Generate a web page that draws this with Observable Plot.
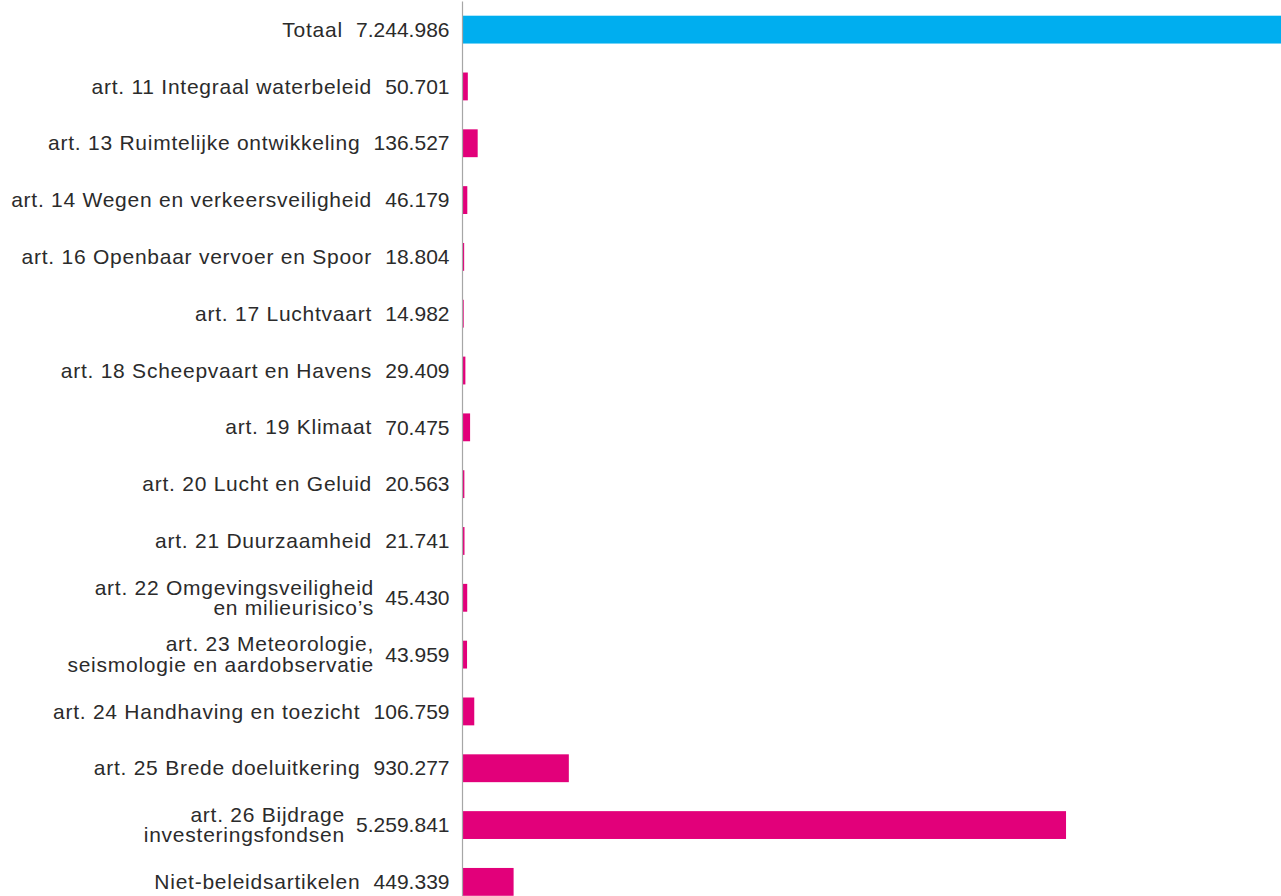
<!DOCTYPE html>
<html>
<head>
<meta charset="utf-8">
<script src="https://cdn.jsdelivr.net/npm/d3@7"></script>
<script src="https://cdn.jsdelivr.net/npm/@observablehq/plot@0.6"></script>
<style>
  html, body { margin: 0; padding: 0; background: #fff; }
  #wrap { width: 1281px; height: 896px; overflow: hidden; position: relative; }
  #wrap svg { display: block; max-width: none !important; }
</style>
</head>
<body>
<div id="wrap"></div>
<script>
const categories = [
  "Totaal",
  "art. 11 Integraal waterbeleid",
  "art. 13 Ruimtelijke ontwikkeling",
  "art. 14 Wegen en verkeersveiligheid",
  "art. 16 Openbaar vervoer en Spoor",
  "art. 17 Luchtvaart",
  "art. 18 Scheepvaart en Havens",
  "art. 19 Klimaat",
  "art. 20 Lucht en Geluid",
  "art. 21 Duurzaamheid",
  "art. 22 Omgevingsveiligheid\nen milieurisico’s",
  "art. 23 Meteorologie,\nseismologie en aardobservatie",
  "art. 24 Handhaving en toezicht",
  "art. 25 Brede doeluitkering",
  "art. 26 Bijdrage\ninvesteringsfondsen",
  "Niet-beleidsartikelen"
];
const values = [7244986, 50701, 136527, 46179, 18804, 14982, 29409, 70475, 20563, 21741, 45430, 43959, 106759, 930277, 5259841, 449339];
const groups = ["totaal", "artikel", "artikel", "artikel", "artikel", "artikel", "artikel", "artikel", "artikel", "artikel", "artikel", "artikel", "artikel", "artikel", "artikel", "artikel"];

const rows = categories.map((c, i) => ({category: c, value: values[i], group: groups[i]}));

const nl = d3.formatLocale({decimal: ",", thousands: ".", grouping: [3], currency: ["€", ""]});
const fmt = nl.format(",d");

const FONT = "Liberation Sans, Arial, Helvetica, sans-serif";
const FS = 21;
const LS = 0.75;
const canvas = document.createElement("canvas");
const ctx = canvas.getContext("2d");
ctx.font = `${FS}px ${FONT}`;
const textWidth = s => ctx.measureText(s).width;

const valueOffset = 13;

const labelMarks = rows.map(d => {
  const multi = d.category.includes("\n");
  const gap = (multi ? 12 : 14) - LS;
  return Plot.text([d], {
    x: () => 0,
    y: "category",
    text: "category",
    textAnchor: "end",
    lineAnchor: "middle",
    lineHeight: 0.98,
    dx: -(valueOffset + textWidth(fmt(d.value)) + gap),
    fill: "#2b2b2b",
    fontSize: FS,
    fontFamily: FONT
  });
});

const chart = Plot.plot({
  width: 1294,
  height: 910,
  marginLeft: 462,
  marginRight: 0,
  marginTop: 1.5,
  marginBottom: 0,
  style: {maxWidth: "none"},
  x: {domain: [0, d3.max(values)], axis: null},
  y: {domain: categories, axis: null, paddingInner: 0.51, paddingOuter: 0.25, round: false},
  color: {domain: ["totaal", "artikel"], range: ["#00aeef", "#e2007a"]},
  marks: [
    Plot.barX(rows, {x: "value", y: "category", fill: "group"}),
    Plot.ruleX([0], {stroke: "#a6a6a6", strokeWidth: 1.2}),
    Plot.text(rows, {
      x: () => 0,
      y: "category",
      text: d => fmt(d.value),
      textAnchor: "end",
      dx: -valueOffset,
      fill: "#2b2b2b",
      fontSize: FS,
      fontFamily: FONT
    }),
    ...labelMarks
  ]
});
// widen the category labels slightly (letter spacing) to match the reference typeface
const textGroups = chart.querySelectorAll('g[aria-label="text"]');
textGroups.forEach((g, i) => { if (i > 0) g.style.letterSpacing = `${LS}px`; });
document.getElementById("wrap").appendChild(chart);
</script>
</body>
</html>
